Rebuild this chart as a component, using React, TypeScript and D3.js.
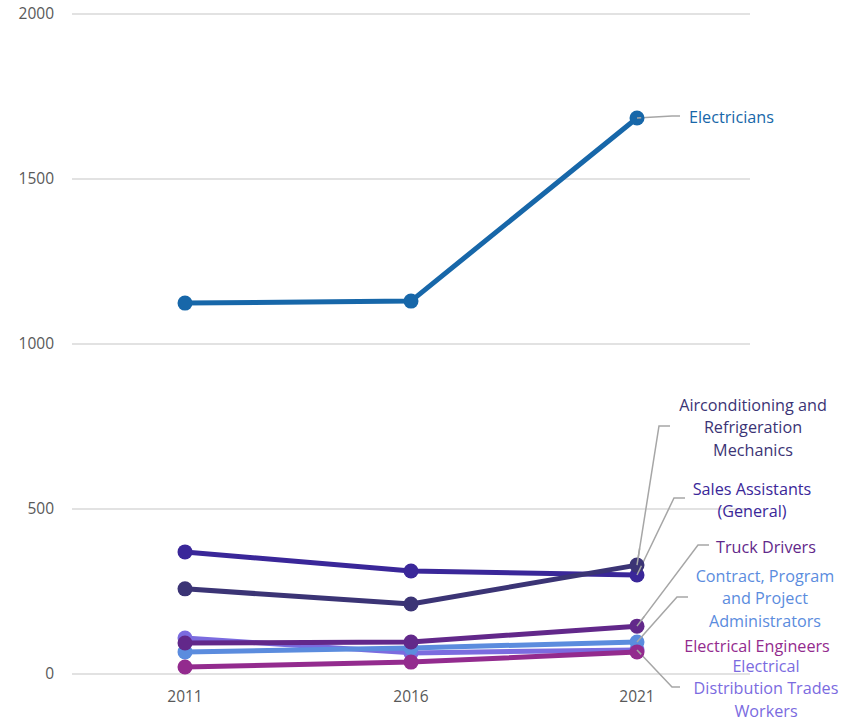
import React from "react";
import * as d3 from "d3";

const years = ["2011", "2016", "2021"];
const yTicks = [0, 500, 1000, 1500, 2000];

const seriesNames = [
  "Electrical Distribution Trades Workers",
  "Contract, Program and Project Administrators",
  "Electrical Engineers",
  "Truck Drivers",
  "Sales Assistants (General)",
  "Airconditioning and Refrigeration Mechanics",
  "Electricians",
];
const electricalDistribution = [109, 64, 73];
const contractAdmins = [67, 79, 97];
const electricalEngineers = [21, 36, 67];
const truckDrivers = [94, 97, 145];
const salesAssistants = [370, 312, 300];
const aircon = [258, 212, 330];
const electricians = [1124, 1130, 1685];

const seriesValues = [
  electricalDistribution,
  contractAdmins,
  electricalEngineers,
  truckDrivers,
  salesAssistants,
  aircon,
  electricians,
];
const seriesColors = ["#7B6BDF", "#5B8CDE", "#932B8E", "#62288A", "#3A2799", "#3B3475", "#1767A9"];

// label annotations: lines of text, anchor, x, first-line y, and leader elbow
const labels = [
  { s: 6, lines: ["Electricians"], anchor: "start", x: 689, y: 117, elbow: [672, 116], end: [680, 116] },
  { s: 5, lines: ["Airconditioning and", "Refrigeration", "Mechanics"], anchor: "middle", x: 753, y: 405, elbow: [659, 426], end: [670, 426] },
  { s: 4, lines: ["Sales Assistants", "(General)"], anchor: "middle", x: 752, y: 489, elbow: [674, 498], end: [685, 498] },
  { s: 3, lines: ["Truck Drivers"], anchor: "middle", x: 766, y: 547, elbow: [698, 545], end: [709, 545] },
  { s: 1, lines: ["Contract, Program", "and Project", "Administrators"], anchor: "middle", x: 765, y: 576, elbow: [677, 597], end: [688, 597] },
  { s: 2, lines: ["Electrical Engineers"], anchor: "middle", x: 757, y: 646, elbow: null, end: null },
  { s: 0, lines: ["Electrical", "Distribution Trades", "Workers"], anchor: "middle", x: 766, y: 666, elbow: [672, 687], end: [680, 687] },
];

export default function App() {
  const W = 841, H = 722;
  const x = d3.scaleBand().domain(years).range([72, 750]);
  const y = d3.scaleLinear().domain([0, 2000]).range([674, 14]);
  const cx = (yr: string) => (x(yr) as number) + x.bandwidth() / 2;
  const line = d3.line<number>().x((_, i) => cx(years[i])).y((v) => y(v));
  const font = "'Open Sans', sans-serif";
  const lh = 22.5;
  return (
    <svg width={W} height={H} style={{ position: "absolute", left: 0, top: 0, background: "#fff" }} fontFamily={font}>
      {yTicks.map((t) => (
        <g key={t}>
          <line x1={72} x2={750} y1={y(t)} y2={y(t)} stroke="#D9D9D9" strokeWidth={1.3} />
          <text x={54} y={y(t)} dy="0.35em" textAnchor="end" fontSize={15.5} fill="#595959">{t}</text>
        </g>
      ))}
      {years.map((yr) => (
        <text key={yr} x={cx(yr)} y={697} dy="0.35em" textAnchor="middle" fontSize={15.5} fill="#595959">{yr}</text>
      ))}
      {labels.filter((l) => l.elbow).map((l, i) => {
        const vals = seriesValues[l.s];
        const p0 = [cx(years[2]), y(vals[2])];
        return (
          <polyline key={"ld" + i} points={`${p0[0]},${p0[1]} ${l.elbow![0]},${l.elbow![1]} ${l.end![0]},${l.end![1]}`} fill="none" stroke="#A6A6A6" strokeWidth={1.5} />
        );
      })}
      {seriesValues.map((vals, si) => (
        <g key={seriesNames[si]}>
          <path d={line(vals) as string} fill="none" stroke={seriesColors[si]} strokeWidth={5} strokeLinejoin="round" />
          {vals.map((v, i) => (
            <circle key={i} cx={cx(years[i])} cy={y(v)} r={7.5} fill={seriesColors[si]} />
          ))}
        </g>
      ))}
      {labels.filter((l) => l.elbow).map((l, i) => {
        const vals = seriesValues[l.s];
        const p0 = [cx(years[2]), y(vals[2])];
        const t = 0.12;
        return (
          <line key={"ldt" + i} x1={p0[0]} y1={p0[1]} x2={p0[0] + (l.elbow![0] - p0[0]) * t} y2={p0[1] + (l.elbow![1] - p0[1]) * t} stroke="#A6A6A6" strokeWidth={1.5} />
        );
      })}
      {labels.map((l, i) => (
        <text key={"lb" + i} x={l.x} y={l.y} textAnchor={l.anchor as any} fontSize={16.2} fill={seriesColors[l.s]}>
          {l.lines.map((t, j) => (
            <tspan key={j} x={l.x} y={l.y + j * lh} dy="0.35em">{t}</tspan>
          ))}
        </text>
      ))}
    </svg>
  );
}
